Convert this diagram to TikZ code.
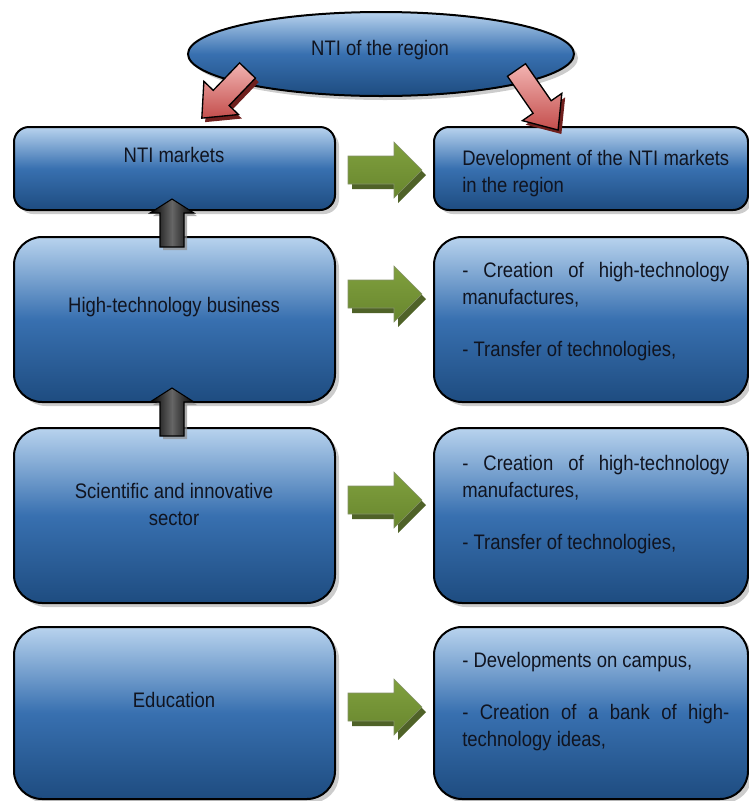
\documentclass[tikz,border=0pt]{standalone}
\usepackage{fontspec}
\setmainfont[FakeStretch=0.88]{Liberation Sans}
\usetikzlibrary{shadows,calc,shapes.geometric}
\definecolor{btop}{RGB}{184,211,238}
\definecolor{bmid}{RGB}{56,112,176}
\definecolor{bbot}{RGB}{30,76,128}
\definecolor{gA}{RGB}{128,160,62}
\definecolor{gB}{RGB}{166,196,104}
\definecolor{gC}{RGB}{104,134,46}
\definecolor{gsh}{RGB}{79,98,40}
\definecolor{rtop}{RGB}{242,180,178}
\definecolor{rbot}{RGB}{196,78,76}
\definecolor{rsh}{RGB}{112,32,30}
\definecolor{ink}{RGB}{16,20,32}
\newcommand\redarr[4]{%
  \begin{scope}[shift={(#1)}, xshift=2.5pt, yshift=-3pt, rotate=#2]
    \fill[rsh] (0,-11) -- ({#3-28},-11) -- ({#3-28},-24) -- (#3,0) -- ({#3-28},24) -- ({#3-28},11) -- (0,11) -- cycle;
  \end{scope}
  \begin{scope}[shift={(#1)}, rotate=#2]
    \path[draw=black, line width=1pt, top color=rtop, bottom color=rbot, name=#4]
      (0,-11) -- ({#3-28},-11) -- ({#3-28},-24) -- (#3,0) -- ({#3-28},24) -- ({#3-28},11) -- (0,11) -- cycle;
  \end{scope}}
\begin{document}
\begin{tikzpicture}[x=0.75pt,y=-0.75pt,
  box/.style={draw=black, line width=1.5pt, rounded corners=21pt,
    top color=btop, bottom color=bbot, middle color=bmid,
    drop shadow={shadow xshift=3pt, shadow yshift=-3pt, opacity=0.4},
    inner sep=0, minimum width=240.75pt},
  rbox/.style={box, minimum width=235.5pt},
  txt/.style={font=\fontsize{15.75}{20.25}\selectfont, text=ink, inner sep=0, align=center},
  rtxt/.style={font=\fontsize{15.75}{20.25}\selectfont, text=ink, inner sep=0,
    execute at begin node={\hyphenpenalty=10000\relax},
    text width=200.25pt, align=justify, anchor=base west},
  garrow/.pic={
    \fill[gsh] (4,-9) -- (50,-9) -- (50,-23) -- (78,5) -- (50,33) -- (50,19) -- (4,19) -- cycle;
    \path[draw=gsh!70, line width=0.4pt, top color=gA, middle color=gB, bottom color=gC]
      (0,-14) -- (46,-14) -- (46,-28) -- (74,0) -- (46,28) -- (46,14) -- (0,14) -- cycle;
  },
  karrow/.pic={
    \fill[black!45, opacity=0.7] (3,3) -- (25,17) -- (15,17) -- (15,51) -- (-9,51) -- (-9,17) -- (-19,17) -- cycle;
    \path[draw=black, line width=0.8pt, left color=black, right color=black, middle color=black!60]
      (0,0) -- (22,14) -- (12,14) -- (12,48) -- (-12,48) -- (-12,14) -- (-22,14) -- cycle;
  }]
\useasboundingbox (0,0) rectangle (749,801);

% ellipse
\node[ellipse, draw=black, line width=1.5pt, top color=btop, bottom color=bbot, middle color=bmid,
  drop shadow={shadow xshift=3pt, shadow yshift=-3pt, opacity=0.4},
  minimum width=289.5pt, minimum height=63pt, inner sep=0] (E) at (381,54) {};
\node[txt] (Et) at (380,50) {NTI of the region};

% left boxes
\node[box, rounded corners=11.25pt, minimum height=62.25pt] (L1) at (174.5,168.5) {};
\node[box, minimum height=123.75pt] (L2) at (174.5,319.5) {};
\node[box, minimum height=131.25pt] (L3) at (174.5,515.5) {};
\node[box, minimum height=129pt] (L4) at (174.5,713) {};

% right boxes
\node[rbox, rounded corners=11.25pt, minimum height=62.25pt] (R1) at (591,168.5) {};
\node[rbox, minimum height=123.75pt] (R2) at (591,319.5) {};
\node[rbox, minimum height=131.25pt] (R3) at (591,515.5) {};
\node[rbox, minimum height=129pt] (R4) at (591,713) {};

% left texts
\node[txt] (T1) at (174,155) {NTI markets};
\node[txt] (T2) at (174,307) {High-technology business};
\node[txt] (T3) at (174,504) {Scientific and innovative\\sector};
\node[txt] (T4) at (174,700) {Education};

% right texts
\node[rtxt] (S1) at (462,165) {Development of the NTI markets in the region};
\node[rtxt] (S2) at (462,277) {- Creation of high-technology manufactures,\par\vspace{18.75pt}- Transfer of technologies,};
\node[rtxt] (S3) at (462,470) {- Creation of high-technology manufactures,\par\vspace{18.75pt}- Transfer of technologies,};
\node[rtxt] (S4) at (462,667) {- Developments on campus,\par\vspace{18.75pt}- Creation of a bank of high-technology ideas,};

% green arrows
\pic at ($(L1.east)+(12,1.5)$) {garrow};
\pic at ($(L2.east)+(12,-25.5)$) {garrow};
\pic at ($(L3.east)+(12,-15.5)$) {garrow};
\pic at ($(L4.east)+(12,-6)$) {garrow};

% black up arrows
\pic at ($(L1.south)+(-2.5,-12)$) {karrow};
\pic at ($(L2.south)+(-2.5,-15)$) {karrow};

% red arrows
\coordinate (ra) at (247.5,70.5);
\coordinate (rb) at (516.5,70);
\redarr{ra}{-133.8}{66}{RA}
\redarr{rb}{-55.3}{73}{RB}
\end{tikzpicture}
\end{document}
